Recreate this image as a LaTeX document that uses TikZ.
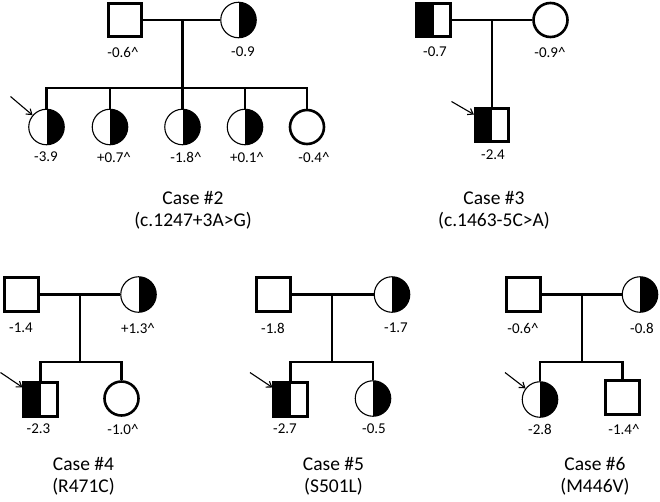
\documentclass[tikz,border=0pt]{standalone}
\usepackage{fontspec}
\setmainfont{Carlito}
\usetikzlibrary{arrows.meta}

\tikzset{
  male/.style={rectangle, draw, line width=2.6pt, minimum size=33.5pt, inner sep=0pt},
  female/.style={circle, draw, line width=2.6pt, minimum size=34pt, inner sep=0pt},
  halfmale/.style={male, path picture={\fill[black] (path picture bounding box.north west) rectangle (path picture bounding box.south);}},
  halffemale/.style={circle, draw, line width=1.1pt, minimum size=35.5pt, inner sep=0pt,
    path picture={\fill[black] (path picture bounding box.north) rectangle (path picture bounding box.south east);}},
  lab/.style={font=\fontsize{15}{17}\selectfont, inner sep=0pt},
  casetext/.style={font=\fontsize{19.5}{21.5}\selectfont, align=center, inner sep=0pt},
  proband/.style={line width=1.1pt, -{Straight Barb[length=5pt,width=7pt]}},
}

\begin{document}
\begin{tikzpicture}[x=1pt, y=-1pt, line width=2.6pt]
  \useasboundingbox (0,0) rectangle (660,501);

  % case 2
  \node[male]       (f2)  at (125,20)    {};
  \node[halffemale] (m2)  at (238.5,20)  {};
  \node[halffemale] (c21) at (46.5,127)  {};
  \node[halffemale] (c22) at (110,127)   {};
  \node[halffemale] (c23) at (182.5,127) {};
  \node[halffemale] (c24) at (245,127)   {};
  \node[female]     (c25) at (307,127)   {};
  \coordinate (u2) at (182.5,20);
  \coordinate (s2) at (182.5,88);

  \draw (f2) -- (m2);
  \draw (u2) -- (s2);
  \draw (c21.north) -- (c21.north |- s2) -- (c25.north |- s2) -- (c25.north);
  \draw (c22.north) -- (c22.north |- s2);
  \draw (c23.north) -- (s2);
  \draw (c24.north) -- (c24.north |- s2);

  \node[lab] (lf2)  at (123,52)  {-0.6\textasciicircum};
  \node[lab] (lm2)  at (243,52)  {-0.9};
  \node[lab] (lc21) at (46,157)  {-3.9};
  \node[lab] (lc22) at (114,157) {+0.7\textasciicircum};
  \node[lab] (lc23) at (186,157) {-1.8\textasciicircum};
  \node[lab] (lc24) at (247,157) {+0.1\textasciicircum};
  \node[lab] (lc25) at (314,157) {-0.4\textasciicircum};

  \coordinate (a2) at (10.5,96.5);
  \draw[proband] (a2) -- (c21);
  \node[casetext] (t2) at (193,210.5) {Case \#2\\(c.1247+3A>G)};

  % case 3
  \node[halfmale] (f3)  at (433.5,20) {};
  \node[female]   (m3)  at (550.5,20) {};
  \node[halfmale] (c31) at (492,125)  {};
  \coordinate (u3) at (492,20);

  \draw (f3) -- (m3);
  \draw (u3) -- (c31.north);

  \node[lab] (lf3)  at (435,52)  {-0.7};
  \node[lab] (lm3)  at (550,52)  {-0.9\textasciicircum};
  \node[lab] (lc31) at (493,155) {-2.4};

  \coordinate (a3) at (451.5,101.5);
  \draw[proband] (a3) -- (c31);
  \node[casetext] (t3) at (494,210.5) {Case \#3\\(c.1463-5C>A)};

  % case 4
  \node[male]       (f4)  at (21.5,294.5)  {};
  \node[halffemale] (m4)  at (138.5,294.5) {};
  \node[halfmale]   (c41) at (40.5,399.5)  {};
  \node[female]     (c42) at (121.5,398.5) {};
  \coordinate (u4) at (80,294.5);
  \coordinate (s4) at (80,362);

  \draw (f4) -- (m4);
  \draw (u4) -- (s4);
  \draw (c41.north) -- (c41.north |- s4) -- (c42.north |- s4) -- (c42.north);

  \node[lab] (lf4)  at (21,328)   {-1.4};
  \node[lab] (lm4)  at (138,328)  {+1.3\textasciicircum};
  \node[lab] (lc41) at (38.5,429) {-2.3};
  \node[lab] (lc42) at (123,429)  {-1.0\textasciicircum};

  \coordinate (a4) at (0.5,372.5);
  \draw[proband] (a4) -- (c41);
  \node[casetext] (t4) at (83.5,476.5) {Case \#4\\(R471C)};

  % case 5
  \node[male]       (f5)  at (273.5,294.5) {};
  \node[halffemale] (m5)  at (392,294.5)   {};
  \node[halfmale]   (c51) at (290.5,399.5) {};
  \node[halffemale] (c52) at (373,398.5)   {};
  \coordinate (u5) at (332,294.5);
  \coordinate (s5) at (332,362);

  \draw (f5) -- (m5);
  \draw (u5) -- (s5);
  \draw (c51.north) -- (c51.north |- s5) -- (c52.north |- s5) -- (c52.north);

  \node[lab] (lf5)  at (273,328)  {-1.8};
  \node[lab] (lm5)  at (396,328)  {-1.7};
  \node[lab] (lc51) at (285,429)  {-2.7};
  \node[lab] (lc52) at (374,429)  {-0.5};

  \coordinate (a5) at (250,372.5);
  \draw[proband] (a5) -- (c51);
  \node[casetext] (t5) at (333.5,476.5) {Case \#5\\(S501L)};

  % case 6
  \node[male]       (f6)  at (523.5,294.5) {};
  \node[halffemale] (m6)  at (640,294.5)   {};
  \node[halffemale] (c61) at (540,399.5)   {};
  \node[male]       (c62) at (622.5,397.5) {};
  \coordinate (u6) at (582,294.5);
  \coordinate (s6) at (582,362);

  \draw (f6) -- (m6);
  \draw (u6) -- (s6);
  \draw (c61.north) -- (c61.north |- s6) -- (c62.north |- s6) -- (c62.north);

  \node[lab] (lf6)  at (523,328)  {-0.6\textasciicircum};
  \node[lab] (lm6)  at (642,328)  {-0.8};
  \node[lab] (lc61) at (540,429)  {-2.8};
  \node[lab] (lc62) at (624,429)  {-1.4\textasciicircum};

  \coordinate (a6) at (505,372.5);
  \draw[proband] (a6) -- (c61);
  \node[casetext] (t6) at (595,476.5) {Case \#6\\(M446V)};

\end{tikzpicture}
\end{document}
